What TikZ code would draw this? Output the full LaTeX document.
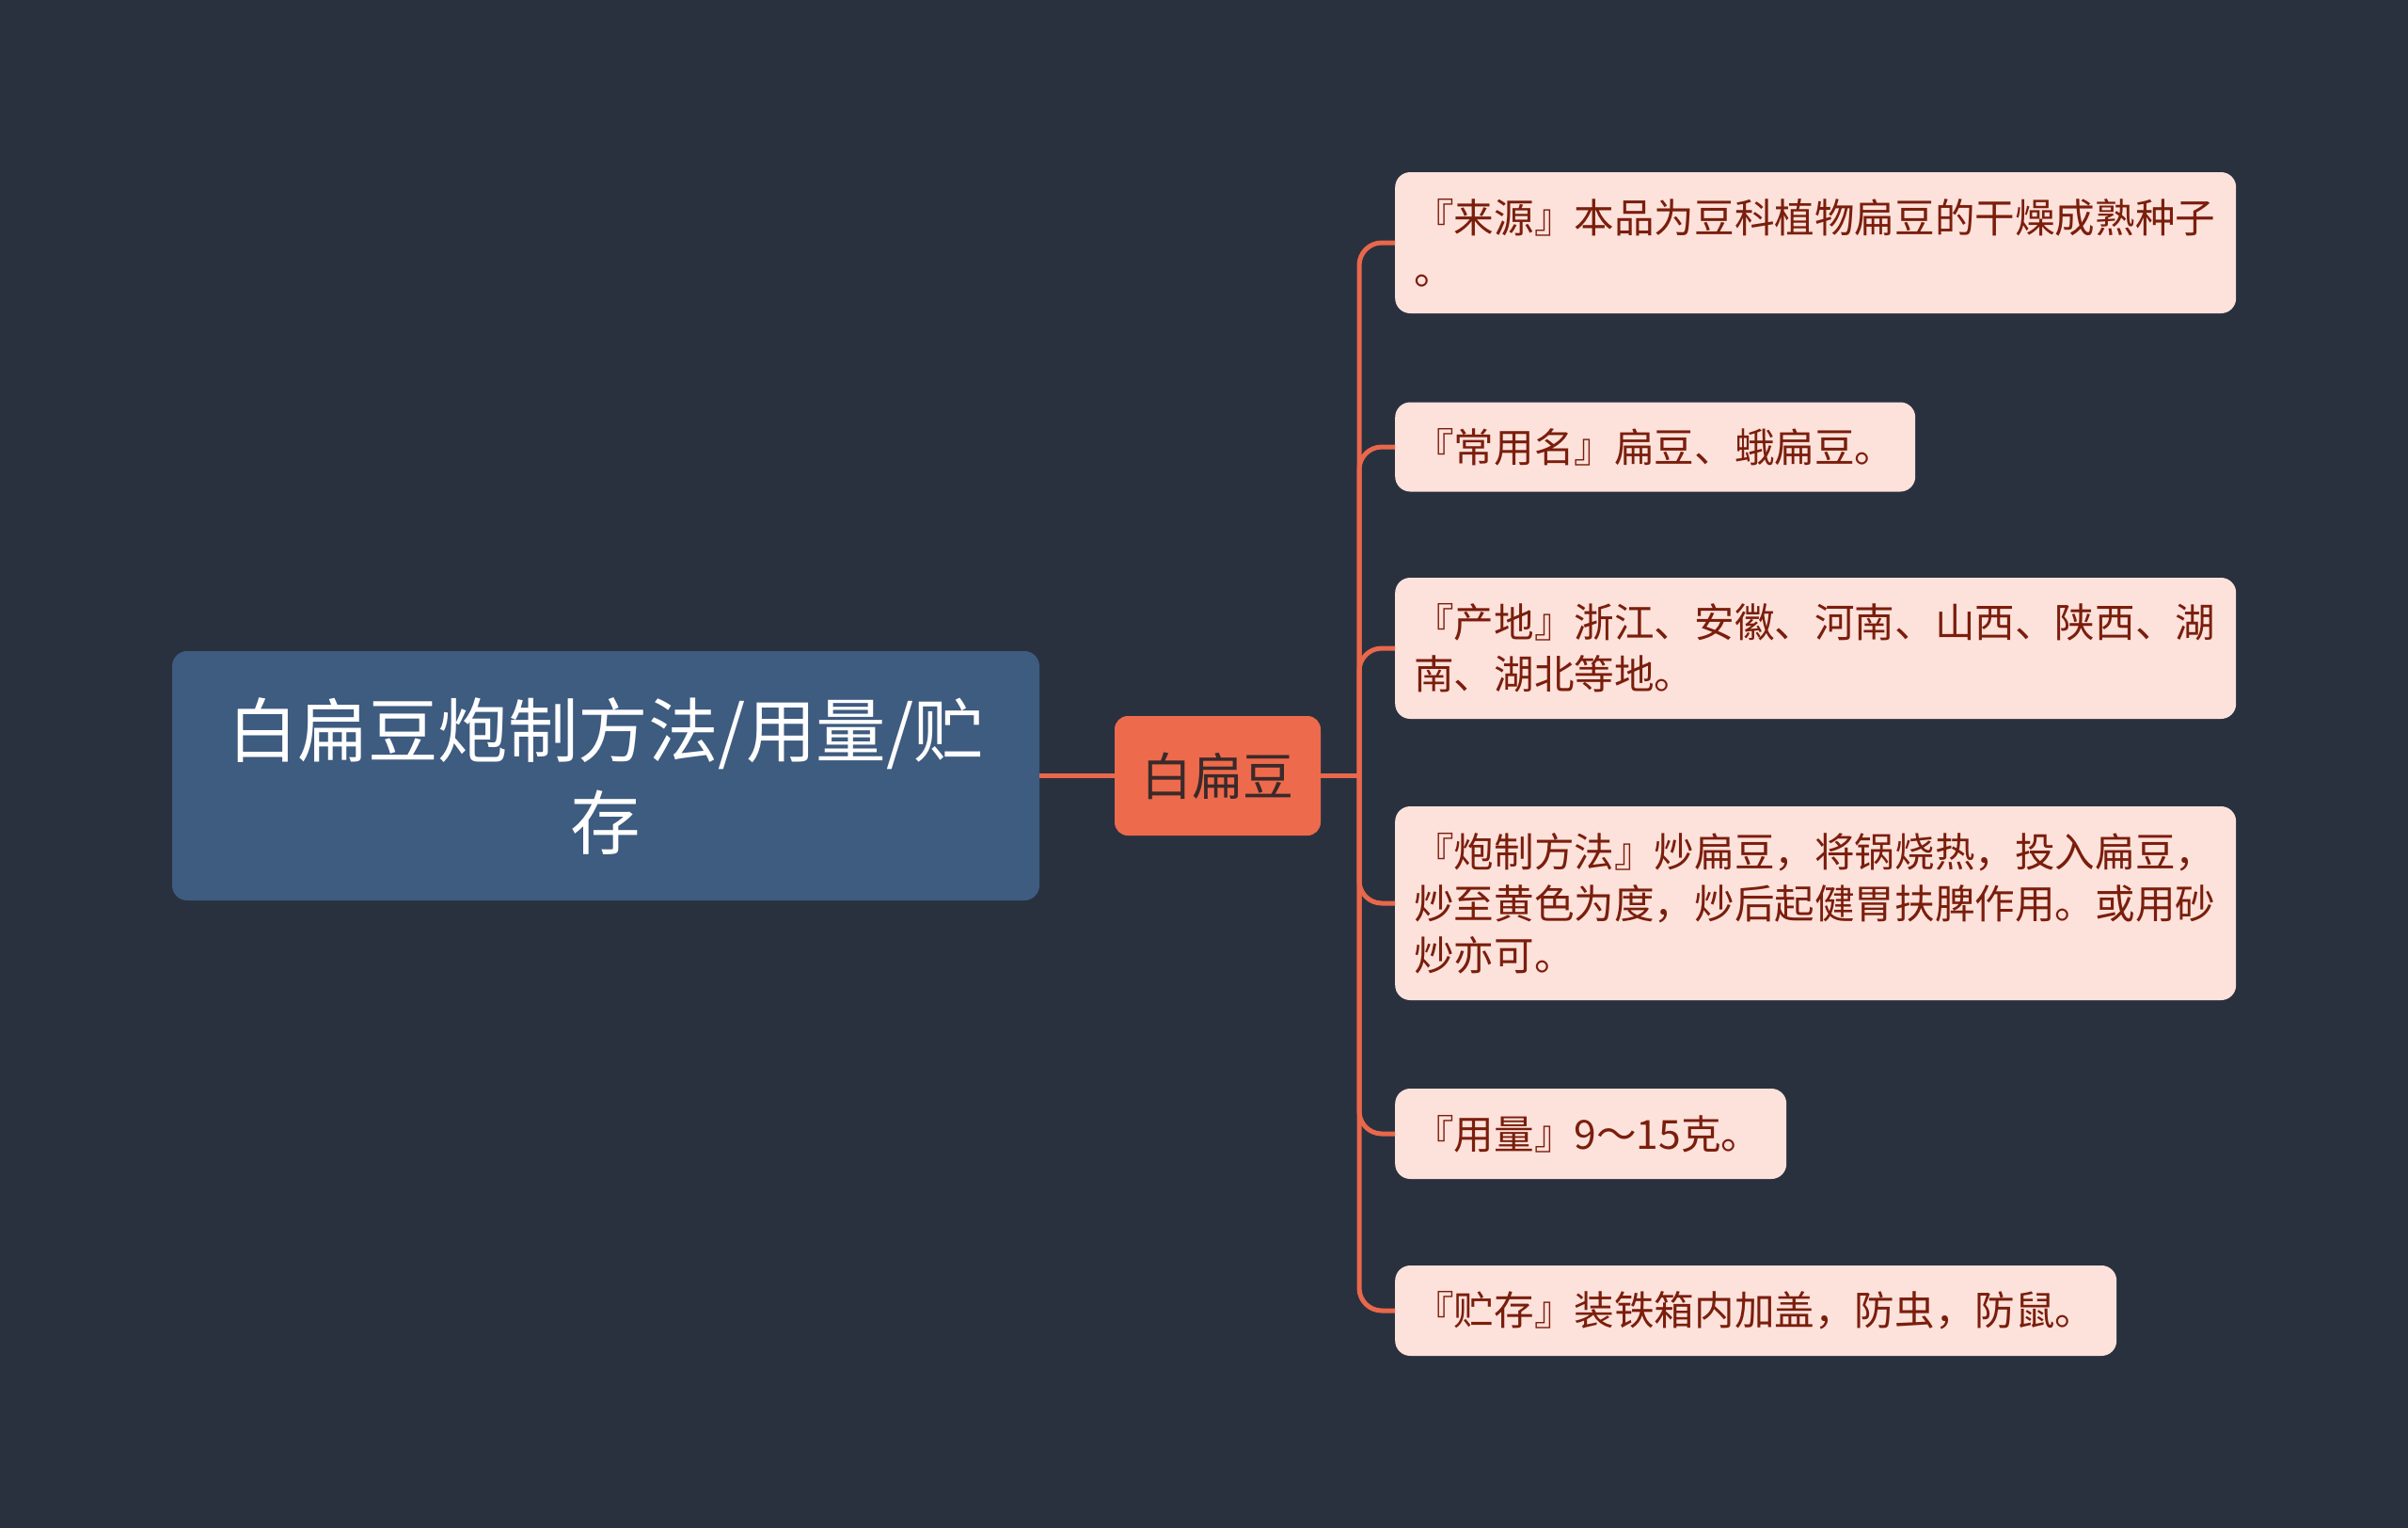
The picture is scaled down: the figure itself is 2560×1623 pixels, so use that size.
\documentclass[tikz,border=0pt]{standalone}
\usepackage{fontspec}
\setmainfont{Noto Sans CJK SC}
\definecolor{bg}{HTML}{29313F}
\definecolor{rootfill}{HTML}{3E5B80}
\definecolor{ctrfill}{HTML}{EE6A4C}
\definecolor{leaffill}{HTML}{FDE1DB}
\definecolor{leaftext}{HTML}{7A1E0C}
\definecolor{ctrtext}{HTML}{3B2A2A}
\definecolor{linec}{HTML}{E9674B}
\tikzset{
  rootbox/.style={fill=rootfill, rounded corners=16pt, text=white, align=center,
    minimum width=922pt, minimum height=265pt, inner sep=0pt,
    font=\fontsize{74.5}{98}\selectfont},
  ctrbox/.style={fill=ctrfill, rounded corners=14pt, text=ctrtext,
    minimum width=219pt, minimum height=127pt, inner sep=0pt,
    font=\fontsize{54}{60}\selectfont},
  leaf/.style={fill=leaffill, rounded corners=16pt, text=leaftext, align=left,
    anchor=west, inner xsep=20pt, inner ysep=0pt,
    font=\fontsize{42.6}{55}\selectfont},
  conn/.style={draw=linec, line width=5pt},
  branch/.style={draw=linec, line width=5pt, rounded corners=24pt},
}
\begin{document}
\begin{tikzpicture}[x=1pt,y=-1pt]
\useasboundingbox (0,0) rectangle (2560,1623);
\fill[bg] (-20,-20) rectangle (2580,1643);

\node[rootbox] (root) at (644,824.5) {白扁豆炮制方法/用量/贮\\存};
\node[ctrbox] (ctr) at (1294.5,824.5) {白扁豆};

\node[leaf, text width=854pt, minimum height=150pt] (c1) at (1483,258)
  {『来源』本品为豆科植物扁豆的干燥成熟种子\\。};
\node[leaf, text width=513pt, minimum height=95pt] (c2) at (1483,475)
  {『常用名』扁豆、蛾扁豆。};
\node[leaf, text width=854pt, minimum height=150pt] (c3) at (1483,689)
  {『产地』浙江、安徽、河南、山西、陕西、湖\\南、湖北等地。};
\node[leaf, text width=854pt, minimum height=206pt] (c4) at (1483,960)
  {『炮制方法』炒扁豆，将锅烧热，投入扁豆，\\炒至黄色为度，炒后起健胃扶脾作用。或用砂\\炒亦可。};
\node[leaf, text width=376pt, minimum height=96pt] (c5) at (1483,1205)
  {『用量』9～15克。};
\node[leaf, text width=727pt, minimum height=96pt] (c6) at (1483,1393)
  {『贮存』装铁箱内加盖，防虫，防鼠。};

\coordinate (j) at (1445,824.5);
\draw[conn] (root.east) -- (ctr.west);
\draw[conn] (ctr.east) -- (j);
\foreach \c in {c1,c2,c3,c4,c5,c6}
  \draw[branch] (j) |- (\c.west);
\end{tikzpicture}
\end{document}
